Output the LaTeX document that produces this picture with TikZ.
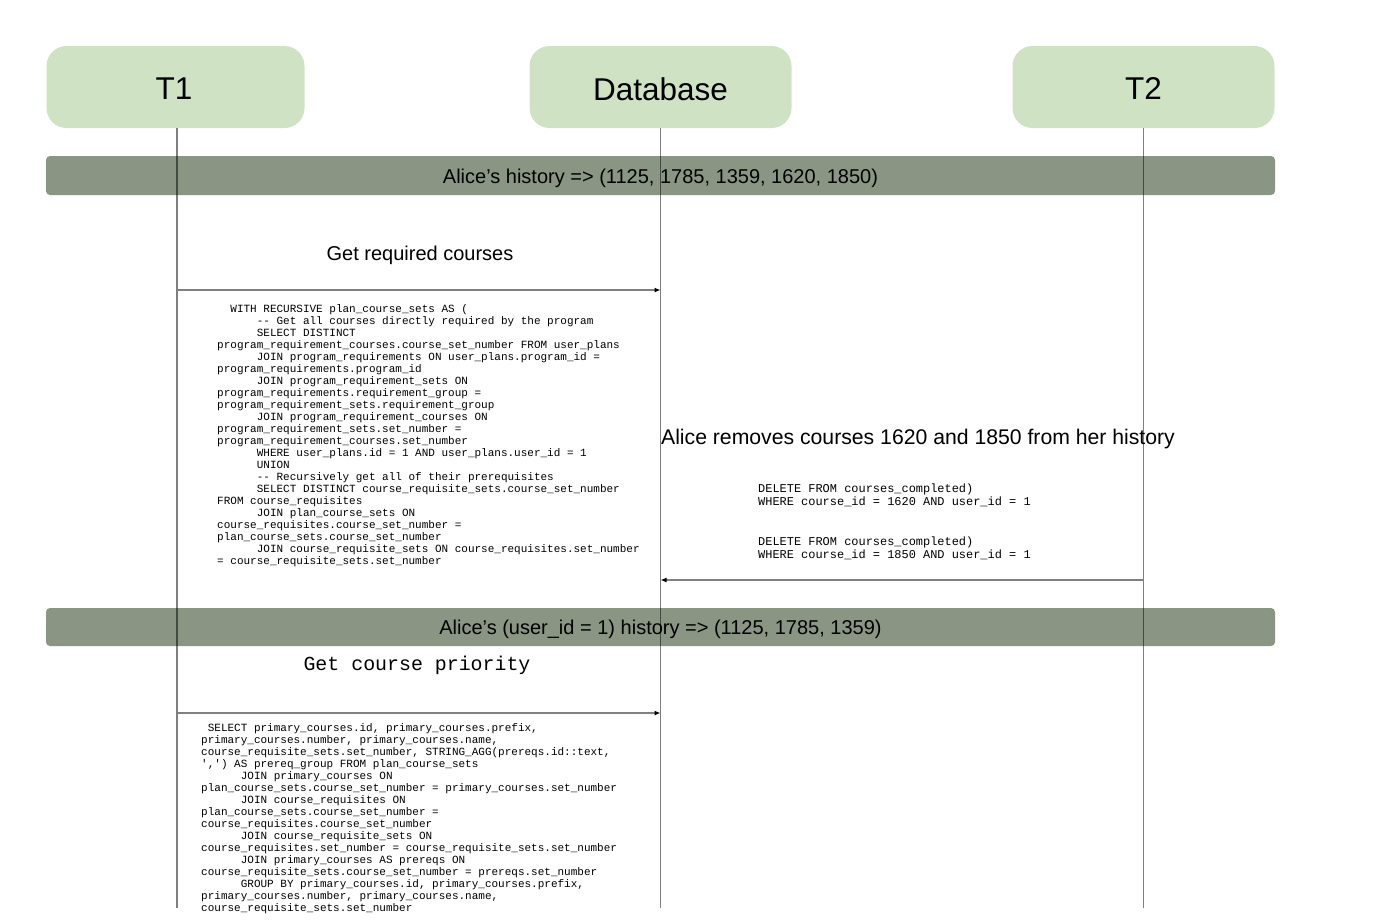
\documentclass[tikz,border=0pt]{standalone}
\usepackage{fontspec}
\setmainfont{Liberation Sans}
\setmonofont{Liberation Mono}
\usetikzlibrary{arrows.meta}
\definecolor{actorfill}{RGB}{207,227,196}
\definecolor{barfill}{RGB}{138,150,131}
% indent by a number of monospace characters
\newcommand\codeind[1]{\hspace*{#1\fontcharwd\font`0}}

\begin{document}
\begin{tikzpicture}[x=1pt,y=-1pt,
  actor/.style={fill=actorfill, rounded corners=20pt, minimum width=262pt,
    minimum height=82pt, inner sep=0pt, font=\fontsize{31.5}{36}\selectfont},
  statebar/.style={fill=barfill, rounded corners=4pt, minimum width=1229pt,
    inner sep=0pt},
  lifeline/.style={draw=black, draw opacity=0.5, line width=1.5pt},
  msg/.style={draw=black!50, line width=1.2pt,
    -{Latex[length=6pt,width=5pt,color=black]}},
  msglabel/.style={font=\fontsize{20}{24}\selectfont, inner sep=0pt},
  codeblock/.style={align=left, inner sep=0pt, anchor=west}
]
\useasboundingbox (0,0) rectangle (1381,921);

% participants
\node[actor, minimum width=258pt] (t1) at (175.5,87) {};
\node[actor] (db) at (660.5,87) {};
\node[actor] (t2) at (1143.5,87) {};
\node[font=\fontsize{31.5}{36}\selectfont, inner sep=0pt] (t1txt) at (174,89) {T1};
\node[font=\fontsize{31.5}{36}\selectfont, inner sep=0pt] (dbtxt) at (660.5,89) {Database};
\node[font=\fontsize{31.5}{36}\selectfont, inner sep=0pt] (t2txt) at (1143.5,89) {T2};

% state bars
\node[statebar, minimum height=39pt] (hist1) at (660.5,175.5) {};
\node[statebar, minimum height=38pt] (hist2) at (660.5,627) {};

% lifelines
\coordinate (bottom) at (0,908);
\draw[lifeline] ([xshift=1.5pt]t1.south) -- ([xshift=1.5pt]t1.south |- bottom);
\draw[lifeline] (db.south) -- (db.south |- bottom);
\draw[lifeline] (t2.south) -- (t2.south |- bottom);

% bar texts
\node[msglabel] (hist1txt) at ([yshift=-2.5pt]hist1.center) {Alice’s history => (1125, 1785, 1359, 1620, 1850)};
\node[msglabel] (hist2txt) at ([yshift=-2pt]hist2.center) {Alice’s (user\_id = 1) history => (1125, 1785, 1359)};

% messages
\coordinate (m1) at (0,290);
\coordinate (m2) at (0,580);
\coordinate (m3) at (0,713);
\draw[msg] ([xshift=1.5pt]t1.south |- m1) -- (db.south |- m1);
\draw[msg] (t2.south |- m2) -- (db.south |- m2);
\draw[msg] ([xshift=1.5pt]t1.south |- m3) -- (db.south |- m3);

\node[msglabel] (getreq) at (420,255) {Get required courses};
\node[msglabel, font=\fontsize{21.2}{25}\selectfont] (removes) at (918,439) {Alice removes courses 1620 and 1850 from her history};
\node[inner sep=0pt, font=\ttfamily\fontsize{19.9}{24}\selectfont] (getprio) at (417,665.5) {Get course priority};

% query: required courses
\node[codeblock, font=\ttfamily\fontsize{11}{12}\selectfont] (sql1) at (217,436) {%
\codeind{2}WITH RECURSIVE plan\_course\_sets AS (\\
\codeind{6}-- Get all courses directly required by the program\\
\codeind{6}SELECT DISTINCT\\
program\_requirement\_courses.course\_set\_number FROM user\_plans\\
\codeind{6}JOIN program\_requirements ON user\_plans.program\_id =\\
program\_requirements.program\_id\\
\codeind{6}JOIN program\_requirement\_sets ON\\
program\_requirements.requirement\_group =\\
program\_requirement\_sets.requirement\_group\\
\codeind{6}JOIN program\_requirement\_courses ON\\
program\_requirement\_sets.set\_number =\\
program\_requirement\_courses.set\_number\\
\codeind{6}WHERE user\_plans.id = 1 AND user\_plans.user\_id = 1\\
\codeind{6}UNION\\
\codeind{6}-- Recursively get all of their prerequisites\\
\codeind{6}SELECT DISTINCT course\_requisite\_sets.course\_set\_number\\
FROM course\_requisites\\
\codeind{6}JOIN plan\_course\_sets ON\\
course\_requisites.course\_set\_number =\\
plan\_course\_sets.course\_set\_number\\
\codeind{6}JOIN course\_requisite\_sets ON course\_requisites.set\_number\\
= course\_requisite\_sets.set\_number};

% deletes
\node[codeblock, font=\ttfamily\fontsize{11.95}{13.2}\selectfont] (deletes) at (758,522) {%
DELETE FROM courses\_completed)\\
WHERE course\_id = 1620 AND user\_id = 1\\[26.4pt]
DELETE FROM courses\_completed)\\
WHERE course\_id = 1850 AND user\_id = 1};

% query: course priority
\node[codeblock, font=\ttfamily\fontsize{11}{12}\selectfont] (sql2) at (201,819) {%
\codeind{1}SELECT primary\_courses.id, primary\_courses.prefix,\\
primary\_courses.number, primary\_courses.name,\\
course\_requisite\_sets.set\_number, STRING\_AGG(prereqs.id::text,\\
',') AS prereq\_group FROM plan\_course\_sets\\
\codeind{6}JOIN primary\_courses ON\\
plan\_course\_sets.course\_set\_number = primary\_courses.set\_number\\
\codeind{6}JOIN course\_requisites ON\\
plan\_course\_sets.course\_set\_number =\\
course\_requisites.course\_set\_number\\
\codeind{6}JOIN course\_requisite\_sets ON\\
course\_requisites.set\_number = course\_requisite\_sets.set\_number\\
\codeind{6}JOIN primary\_courses AS prereqs ON\\
course\_requisite\_sets.course\_set\_number = prereqs.set\_number\\
\codeind{6}GROUP BY primary\_courses.id, primary\_courses.prefix,\\
primary\_courses.number, primary\_courses.name,\\
course\_requisite\_sets.set\_number};
\end{tikzpicture}
\end{document}
